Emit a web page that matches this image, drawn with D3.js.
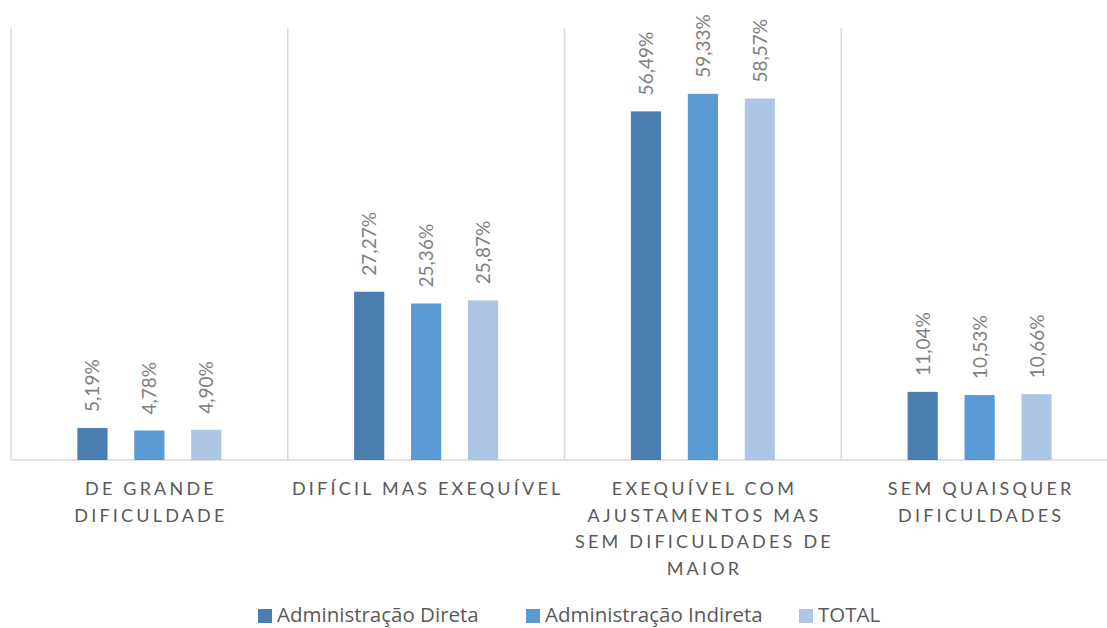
<!DOCTYPE html>
<html>
<head>
<meta charset="utf-8">
<script src="https://cdn.jsdelivr.net/npm/d3@7"></script>
<style>
  body { margin: 0; background: #fff; }
  text { font-family: Lato, "Open Sans", sans-serif; }
</style>
</head>
<body>
<div id="chart"></div>
<script>
// Data
const categories = ["DE GRANDE DIFICULDADE", "DIFÍCIL MAS EXEQUÍVEL", "EXEQUÍVEL COM AJUSTAMENTOS MAS SEM DIFICULDADES DE MAIOR", "SEM QUAISQUER DIFICULDADES"];
const categoryLines = [
    ["DE GRANDE", "DIFICULDADE"],
    ["DIFÍCIL MAS EXEQUÍVEL"],
    ["EXEQUÍVEL COM", "AJUSTAMENTOS MAS", "SEM DIFICULDADES DE", "MAIOR"],
    ["SEM QUAISQUER", "DIFICULDADES"]
];
const seriesNames = ["Administração Direta", "Administração Indireta", "TOTAL"];
const direta = [5.19, 27.27, 56.49, 11.04];
const indireta = [4.78, 25.36, 59.33, 10.53];
const total = [4.90, 25.87, 58.57, 10.66];
const seriesColors = ["#4a7eb0", "#5b9bd5", "#adc6e6"];

const width = 1107, height = 628;
const margin = {left: 11, right: -11, top: 28, bottom: 168};
const innerW = width - margin.left - margin.right;
const innerH = height - margin.top - margin.bottom;

let svg = d3.select("#chart")
    .append("svg")
    .attr("width", width)
    .attr("height", height)
    .append("g")
    .attr("transform", `translate(${margin.left}, ${margin.top})`);

let x = d3.scaleBand()
    .range([0, innerW])
    .domain(categories);

let y = d3.scaleLinear()
    .range([innerH, 0])
    .domain([0, 70]);

// vertical category separators
svg.selectAll(".sep")
    .data(d3.range(categories.length + 1))
    .enter()
    .append("line")
    .attr("x1", i => i * x.bandwidth())
    .attr("x2", i => i * x.bandwidth())
    .attr("y1", 0)
    .attr("y2", innerH)
    .attr("stroke", "#d9d9d9")
    .attr("stroke-width", 1.5);

// baseline
svg.append("line")
    .attr("x1", 0).attr("x2", innerW)
    .attr("y1", y(0)).attr("y2", y(0))
    .attr("stroke", "#d9d9d9")
    .attr("stroke-width", 1.5);

// inner band scale for the series
let xs = d3.scaleBand()
    .domain(seriesNames)
    .range([x.bandwidth() / 2 - 72, x.bandwidth() / 2 + 72])
    .paddingInner(0.47);

const values = [direta, indireta, total];
let barData = [];
categories.forEach((c, ci) => {
    seriesNames.forEach((s, si) => {
        barData.push({cat: c, series: s, value: values[si][ci], color: seriesColors[si]});
    });
});

let groups = svg.selectAll(".bar")
    .data(barData)
    .enter()
    .append("g");

groups.append("rect")
    .attr("x", d => x(d.cat) + xs(d.series))
    .attr("y", d => y(d.value))
    .attr("width", xs.bandwidth())
    .attr("height", d => y(0) - y(d.value))
    .style("fill", d => d.color);

groups.append("text")
    .attr("transform", d => `translate(${x(d.cat) + xs(d.series) + xs.bandwidth() / 2 + 7}, ${y(d.value) - 16}) rotate(-90)`)
    .style("text-anchor", "start")
    .style("font-size", "19px")
    .style("fill", "#7f7f7f")
    .text(d => d.value.toFixed(2).replace(".", ",") + "%");

// category labels
categories.forEach((c, ci) => {
    let t = svg.append("text")
        .attr("x", x(c) + x.bandwidth() / 2)
        .attr("y", y(0) + 35)
        .style("text-anchor", "middle")
        .style("font-size", "18px")
        .style("letter-spacing", "3.2px")
        .style("fill", "#595959");
    categoryLines[ci].forEach((line, li) => {
        t.append("tspan")
            .attr("x", x(c) + x.bandwidth() / 2 + 1.6)
            .attr("dy", li === 0 ? 0 : 26.5)
            .text(line);
    });
});

// legend
const legendX = [258, 526, 799];
let legend = d3.select("svg").append("g");
seriesNames.forEach((s, i) => {
    legend.append("rect")
        .attr("x", legendX[i])
        .attr("y", 609)
        .attr("width", 14)
        .attr("height", 14)
        .style("fill", seriesColors[i]);
    legend.append("text")
        .attr("x", legendX[i] + 19)
        .attr("y", 622)
        .style("font-family", "'Open Sans', sans-serif")
        .style("font-size", "20.5px")
        .style("fill", "#595959")
        .text(s);
});
</script>
</body>
</html>
